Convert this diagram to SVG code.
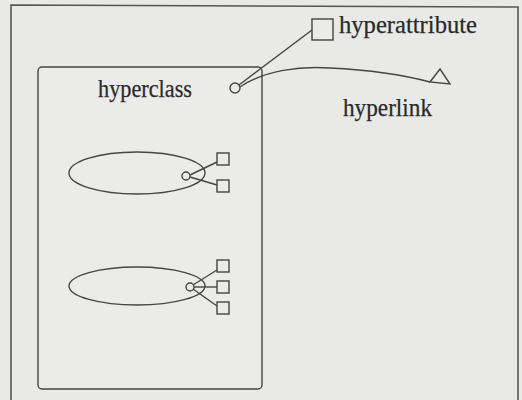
<svg xmlns="http://www.w3.org/2000/svg" width="522" height="400" viewBox="0 0 522 400">
  <defs>
    <style>
      .ln { fill: none; stroke: #454545; stroke-width: 1.4; }
      .frame { fill: none; stroke: #555555; stroke-width: 1.6; }
      .box { fill: #ebebe9; stroke: #454545; stroke-width: 1.4; }
      .lbl { font-family: "Liberation Serif", "DejaVu Serif", serif; font-size: 25px; fill: #2a2a2a; stroke: #2a2a2a; stroke-width: 0.25; }
    </style>
  </defs>

  <!-- page background and outer frame -->
  <rect x="0" y="0" width="522" height="400" fill="#e9e9e7"/>
  <path class="frame" d="M11,401 L11,5 L518,7 L518,401"/>

  <!-- hyperclass container -->
  <g id="hyperclass">
    <rect class="box" x="38" y="67" width="224" height="322" rx="4" ry="4"/>
    <text class="lbl" x="98" y="97" textLength="94" lengthAdjust="spacingAndGlyphs">hyperclass</text>
    <circle class="box" cx="235" cy="88" r="5"/>
  </g>

  <!-- first inner class with two attributes -->
  <g id="class-a">
    <ellipse class="ln" cx="137" cy="173" rx="68" ry="21"/>
    <circle class="box" cx="186" cy="176" r="4"/>
    <rect class="box" x="217" y="153" width="12" height="12"/>
    <rect class="box" x="217" y="180" width="12" height="12"/>
  </g>

  <!-- second inner class with three attributes -->
  <g id="class-b">
    <ellipse class="ln" cx="137" cy="286" rx="68" ry="19"/>
    <circle class="box" cx="190" cy="287" r="4"/>
    <rect class="box" x="217" y="260" width="12" height="12"/>
    <rect class="box" x="217" y="281" width="12" height="12"/>
    <rect class="box" x="217" y="302" width="12" height="12"/>
  </g>

  <!-- hyperattribute node -->
  <g id="hyperattribute">
    <rect class="box" x="312" y="19" width="21" height="21"/>
    <text class="lbl" x="339" y="33" textLength="138" lengthAdjust="spacingAndGlyphs">hyperattribute</text>
  </g>

  <!-- hyperlink node -->
  <g id="hyperlink">
    <polygon class="box" points="430,82 440,69 450,84"/>
    <text class="lbl" x="343" y="116" textLength="89" lengthAdjust="spacingAndGlyphs">hyperlink</text>
  </g>

  <!-- connectors -->
  <g id="connectors">
    <line class="ln" x1="239" y1="85" x2="312" y2="30"/>
    <path class="ln" d="M240,87 C265,70 300,66 330,68 C370,70 400,74 430,82"/>
    <line class="ln" x1="190" y1="175" x2="217" y2="162"/>
    <line class="ln" x1="190" y1="177" x2="217" y2="185"/>
    <line class="ln" x1="193" y1="285" x2="217" y2="270"/>
    <line class="ln" x1="194" y1="287" x2="217" y2="287"/>
    <line class="ln" x1="193" y1="289" x2="217" y2="306"/>
  </g>
</svg>
